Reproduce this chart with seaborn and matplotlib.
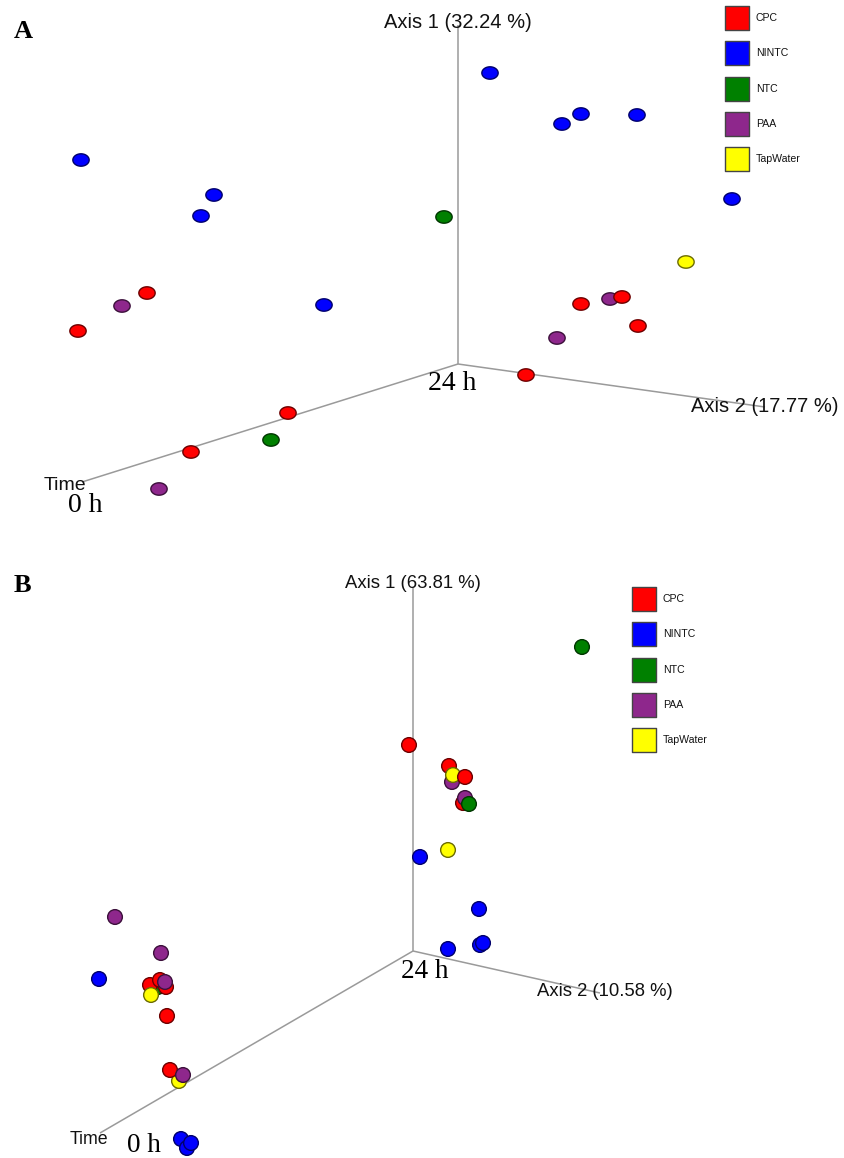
import numpy as np
import pandas as pd
import matplotlib
matplotlib.use("Agg")
import matplotlib.pyplot as plt
from matplotlib.path import Path
import seaborn as sns

# ---- data: projected PCoA sample positions (screen space of each 3-D view) ----
groups = ["CPC", "NINTC", "NTC", "PAA", "TapWater"]
colors = ["#FF0000", "#0000FF", "#008000", "#8E278C", "#FFFF00"]

# Panel A (Axis 1 32.24 %, Axis 2 17.77 %)
a_group = ["NINTC", "NINTC", "NINTC", "NINTC", "NINTC", "NINTC", "NINTC", "NINTC", "NINTC",
           "NTC", "NTC",
           "CPC", "CPC", "CPC", "CPC",
           "PAA", "PAA", "PAA", "PAA",
           "CPC", "CPC", "CPC", "CPC",
           "TapWater"]
a_x = [81, 214, 201, 324, 490, 581, 562, 637, 732,
       444, 271,
       147, 78, 288, 191,
       122, 159, 610, 557,
       581, 622, 638, 526,
       686]
a_y = [160, 195, 216, 305, 73, 114, 124, 115, 199,
       217, 440,
       293, 331, 413, 452,
       306, 489, 299, 338,
       304, 297, 326, 375,
       262]

# Panel B (Axis 1 63.81 %, Axis 2 10.58 %)
b_group = ["NTC", "CPC", "PAA", "CPC", "TapWater", "CPC", "CPC", "PAA", "NTC",
           "TapWater", "NINTC", "NINTC", "NINTC", "NINTC", "NINTC",
           "PAA", "PAA", "NINTC", "NTC", "CPC", "CPC", "CPC", "PAA", "TapWater",
           "CPC", "TapWater", "CPC", "PAA", "NINTC", "NINTC", "NINTC"]
b_x = [582, 409, 452, 449, 453, 465, 463, 465, 469,
       448, 420, 479, 448, 480, 483,
       115, 161, 99, 158, 150, 160, 166, 165, 151,
       167, 179, 170, 183, 181, 187, 191]
b_y = [647, 745, 782, 766, 775, 777, 803, 798, 804,
       850, 857, 909, 949, 945, 943,
       917, 953, 979, 987, 985, 980, 987, 982, 995,
       1016, 1081, 1070, 1075, 1139, 1148, 1143]

axis1_label = ["Axis 1 (32.24 %)", "Axis 1 (63.81 %)"]
axis2_label = ["Axis 2 (17.77 %)", "Axis 2 (10.58 %)"]

# ---- styling ----
sns.set_style("white")
plt.rcParams["font.family"] = ["Liberation Sans", "DejaVu Sans"]
plt.rcParams["text.color"] = "black"

palette = dict(zip(groups, colors))


def darker(c, f=0.42):
    r, g, b = matplotlib.colors.to_rgb(c)
    return (r * f, g * f, b * f)


edge_palette = {g: darker(c) for g, c in palette.items()}

W, H = 845, 1158
fig = plt.figure(figsize=(W / 100, H / 100), dpi=100)
ax = fig.add_axes([0, 0, 1, 1])
ax.set_xlim(0, W)
ax.set_ylim(H, 0)
ax.axis("off")

# flattened ellipse marker for view A
t = np.linspace(0, 2 * np.pi, 60)
ellipse = Path(np.column_stack([np.cos(t), 0.76 * np.sin(t)]), closed=True)

axis_col = "#9a9a9a"

# 3-D frame of each view: origin and ends of the three axes
frames = [
    dict(origin=(458, 364), ax1=(458, 25), ax2=(765, 407), time=(82, 482),
         l1=(458, 22), l2=(765, 407), fs=14.5,
         time_txt=(65, 485), t0=(85, 506), t24=(452, 384), tag=(23, 31),
         leg=(737, 18), leg_text=756, tsz=20),
    dict(origin=(413, 951), ax1=(413, 587), ax2=(600, 993), time=(100, 1133),
         l1=(413, 584), l2=(605, 992), fs=13.3,
         time_txt=(89, 1139), t0=(144, 1146), t24=(425, 972), tag=(22, 586),
         leg=(644, 599), leg_text=663, tsz=19.5),
]

for fr in frames:
    o = fr["origin"]
    for k in ("ax1", "ax2", "time"):
        e = fr[k]
        ax.plot([o[0], e[0]], [o[1], e[1]], color=axis_col, lw=1.1, zorder=1,
                solid_capstyle="butt")

# sample points
dfa = pd.DataFrame({"group": a_group, "x": a_x, "y": a_y})
dfb = pd.DataFrame({"group": b_group, "x": b_x, "y": b_y})

sns.scatterplot(data=dfa, x="x", y="y", hue="group", palette=palette,
                marker=ellipse, s=138, linewidth=1.0,
                edgecolor=[edge_palette[g] for g in dfa["group"]],
                legend=False, ax=ax, zorder=3)
sns.scatterplot(data=dfb, x="x", y="y", hue="group", palette=palette,
                marker="o", s=112, linewidth=1.0,
                edgecolor=[edge_palette[g] for g in dfb["group"]],
                legend=False, ax=ax, zorder=3)

ax.set_xlim(0, W)
ax.set_ylim(H, 0)
ax.set_xlabel("")
ax.set_ylabel("")

# labels, time marks and legends
for i, fr in enumerate(frames):
    ax.text(*fr["l1"], axis1_label[i], fontsize=fr["fs"], ha="center",
            va="center", color="#111111", zorder=4)
    ax.text(*fr["l2"], axis2_label[i], fontsize=fr["fs"], ha="center",
            va="center", color="#111111", zorder=4)
    ax.text(*fr["time_txt"], "Time", fontsize=fr["fs"] - 0.5, ha="center",
            va="center", color="#111111", zorder=4)
    ax.text(*fr["t0"], "0 h", fontsize=fr["tsz"], ha="center", va="center",
            color="black", family=["Liberation Serif", "DejaVu Serif"], zorder=4)
    ax.text(*fr["t24"], "24 h", fontsize=fr["tsz"], ha="center", va="center",
            color="black", family=["Liberation Serif", "DejaVu Serif"], zorder=4)
    ax.text(*fr["tag"], "AB"[i], fontsize=19, fontweight="bold", ha="center",
            va="center", color="black",
            family=["Liberation Serif", "DejaVu Serif"], zorder=4)

    lx, ly = fr["leg"]
    step = 35.3
    ax.scatter([lx] * len(groups), [ly + j * step for j in range(len(groups))],
               marker="s", s=295, c=colors, edgecolors="#444444",
               linewidths=1.0, zorder=4)
    for j, g in enumerate(groups):
        ax.text(fr["leg_text"], ly + j * step, g, fontsize=7.6, ha="left",
                va="center", color="#111111", zorder=4)

fig.savefig("out.png", dpi=100)
